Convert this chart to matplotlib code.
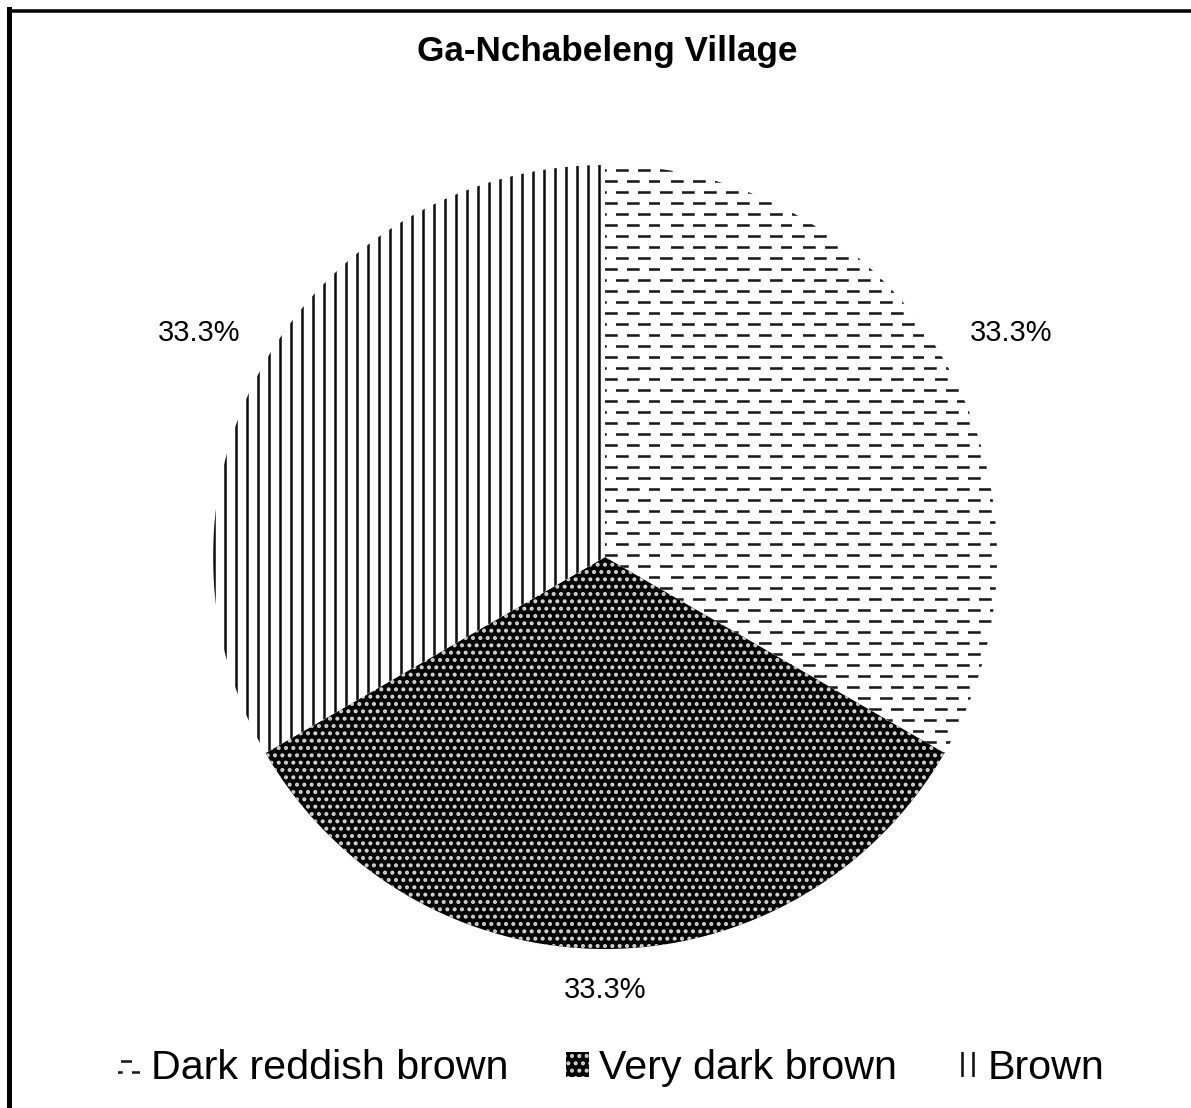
import matplotlib
matplotlib.use("Agg")
import matplotlib.pyplot as plt
import matplotlib.hatch as mhatch
from matplotlib.lines import Line2D
from matplotlib.path import Path
import numpy as np

plt.rcParams["font.family"] = ["Liberation Sans", "DejaVu Sans"]
plt.rcParams["hatch.linewidth"] = 1.4

title = "Ga-Nchabeleng Village"
categories = ["Dark reddish brown", "Very dark brown", "Brown"]
shares = [33.3, 33.3, 33.3]          # percent of samples per soil colour


class DashHatch(mhatch.HatchPatternBase):
    """Staggered rows of short horizontal dashes, used for '-'."""

    def __init__(self, hatch, density):
        self.num_rows = hatch.count("-") * 12
        self.per_row = 6
        self.num_vertices = self.num_rows * self.per_row * 2

    def set_vertices_and_codes(self, vertices, codes):
        period = 1.0 / self.per_row
        dash = 0.46 * period
        k = 0
        for row in range(self.num_rows):
            y = (row + 0.5) / self.num_rows
            shift = period / 2 if row % 2 else 0.0
            for c in range(self.per_row):
                x0 = c * period + shift + 0.01
                vertices[k] = (x0, y)
                vertices[k + 1] = (x0 + dash, y)
                codes[k] = Path.MOVETO
                codes[k + 1] = Path.LINETO
                k += 2


# swap the plain horizontal-line hatch for the dashed one
mhatch._hatch_types[0] = DashHatch

faces = ["white", "black", "white"]
inks = ["#1a1a1a", "#d4d4d4", "#111111"]
hatches = ["-", "...", "||"]

W, H, DPI = 1191, 1108, 132
fig = plt.figure(figsize=(W / DPI, H / DPI), dpi=DPI)

# pie centred at (605, 557) px with a 392 px radius
R = 1.3
rad_px = 392
cx, cy = 605, 557
ax = fig.add_axes([(cx - R * rad_px) / W, (H - cy - R * rad_px) / H,
                   2 * R * rad_px / W, 2 * R * rad_px / H])
wedges, _ = ax.pie(shares, startangle=90, counterclock=False, radius=1.0,
                   wedgeprops=dict(linewidth=0))
for w, fc, ec, h in zip(wedges, faces, inks, hatches):
    w.set_facecolor(fc)
    w.set_edgecolor(ec)
    w.set_hatch(h)
    w.set_linewidth(0)
ax.set_xlim(-R, R)
ax.set_ylim(-R, R)
ax.set_aspect("equal")
ax.axis("off")

# percentage labels just outside each slice
total = sum(shares)
start = 0.0
for v in shares:
    mid = np.deg2rad(90 - 360 * (start + v / 2) / total)
    start += v
    c, s = np.cos(mid), np.sin(mid)
    ha = "left" if c > 0.1 else ("right" if c < -0.1 else "center")
    va = "bottom" if s > 0.1 else ("top" if s < -0.1 else "center")
    ax.text(1.075 * c, 1.07 * s, f"{v:.1f}%", ha=ha, va=va, fontsize=15.8)

fig.text(607 / W, 1 - 52 / H, title, ha="center", va="center",
         fontsize=19.2, fontweight="bold")

fig.legend(wedges, categories, loc="center", bbox_to_anchor=(611 / W, 1 - 1068 / H),
           ncol=3, frameon=False, fontsize=22.5, handlelength=0.55,
           handleheight=0.55, handletextpad=0.25, columnspacing=1.4)

# chart-area border: left and top edges only
fig.add_artist(Line2D([8.5 / W, 8.5 / W], [0, 1 - 9 / H], color="black",
                      lw=5 * 72 / DPI, transform=fig.transFigure,
                      solid_capstyle="projecting"))
fig.add_artist(Line2D([8.5 / W, 1], [1 - 10.5 / H, 1 - 10.5 / H], color="black",
                      lw=3.5 * 72 / DPI, transform=fig.transFigure,
                      solid_capstyle="butt"))

fig.savefig("out.png", dpi=DPI)
